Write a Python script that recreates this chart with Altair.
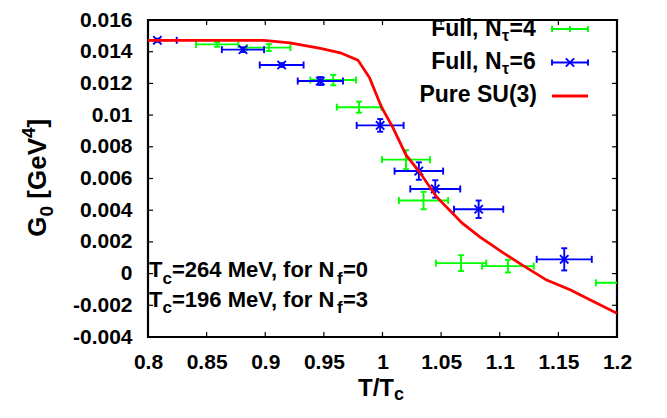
import altair as alt
import pandas as pd

# ---------------- data ----------------
# Full QCD, N_tau = 4 (green)
t4 = [0.859, 0.903, 0.958, 0.980, 1.020, 1.035, 1.067, 1.107, 1.205]
g4 = [0.01446, 0.01426, 0.01221, 0.01050, 0.00719, 0.00461, 0.00066, 0.00047, -0.00058]
dt4 = [0.018, 0.0185, 0.0195, 0.019, 0.0205, 0.021, 0.0215, 0.022, 0.023]
dg4 = [0.00015, 0.00022, 0.00033, 0.00035, 0.0006, 0.00055, 0.0005, 0.0004, 0.0003]

# Full QCD, N_tau = 6 (blue)
t6 = [0.808, 0.881, 0.914, 0.947, 0.998, 1.031, 1.045, 1.082, 1.155, 1.226]
g6 = [0.01472, 0.01413, 0.01316, 0.01215, 0.00935, 0.00647, 0.00534, 0.00406, 0.00090, -0.00129]
dt6 = [0.0165, 0.018, 0.0187, 0.0193, 0.020, 0.0207, 0.0213, 0.021, 0.0235, 0.0255]
dg6 = [0.0001, 0.00015, 0.00012, 0.00025, 0.0004, 0.00055, 0.00055, 0.00055, 0.0007, 0.0003]

# Pure SU(3) (red line)
tsu3 = [0.80, 0.85, 0.899, 0.921, 0.947, 0.964, 0.979, 0.989, 0.999, 1.009, 1.020,
        1.031, 1.046, 1.068, 1.083, 1.103, 1.120, 1.140, 1.160, 1.179, 1.200]
gsu3 = [0.01472, 0.01472, 0.01472, 0.01456, 0.01421, 0.01393, 0.01347, 0.01235, 0.01053,
        0.00920, 0.00749, 0.00647, 0.00485, 0.00318, 0.00232, 0.00131, 0.00050,
        -0.00041, -0.00102, -0.00173, -0.00250]

x_ticks = [0.8, 0.85, 0.9, 0.95, 1.0, 1.05, 1.1, 1.15, 1.2]
y_ticks = [-0.004, -0.002, 0.0, 0.002, 0.004, 0.006, 0.008, 0.01, 0.012, 0.014, 0.016]

GREEN, BLUE, RED = "#00ff00", "#0000ff", "#ff0000"
FONT = "Liberation Sans"
SW = 1.9

# ---------------- layout ----------------
W, H = 469, 317
PL, PT, PR, PB = 140, 12, 20, 67
OX, OY = PL + 8, PT + 8  # page position of the plot's top-left corner


def px(xp):
    return xp - OX


def py(yp):
    return yp - OY


xs = alt.Scale(domain=[0.8, 1.2], nice=False, zero=False)
ys = alt.Scale(domain=[-0.004, 0.016], nice=False, zero=False)
xaxis = alt.Axis(values=x_ticks, format="~g", title=None, grid=False, ticks=False,
                 domain=False, labelFont=FONT, labelFontSize=21, labelFontWeight="bold",
                 labelColor="black", labelPadding=14, labelFlush=False, labelOverlap=False)
yaxis = alt.Axis(values=y_ticks, title=None, grid=False, ticks=False, domain=False,
                 labelExpr="replace(format(datum.value, '~g'), '\u2212', '-')",
                 labelFont=FONT, labelFontSize=21, labelFontWeight="bold",
                 labelColor="black", labelPadding=16, labelOverlap=False)


def X(f):
    return alt.X(f, type="quantitative", scale=xs, axis=xaxis)


def Y(f):
    return alt.Y(f, type="quantitative", scale=ys, axis=yaxis)


def series(T, G, dT, dG, color, cross):
    df = pd.DataFrame({"T": T, "G": G, "dT": dT, "dG": dG})
    df["xlo"] = df["T"] - df["dT"]
    df["xhi"] = df["T"] + df["dT"]
    df["ylo"] = df["G"] - df["dG"]
    df["yhi"] = df["G"] + df["dG"]
    caps_x = pd.concat([df[["xlo", "G"]].rename(columns={"xlo": "cx"}),
                        df[["xhi", "G"]].rename(columns={"xhi": "cx"})])
    caps_y = pd.concat([df[["T", "ylo"]].rename(columns={"ylo": "cy"}),
                        df[["T", "yhi"]].rename(columns={"yhi": "cy"})])
    b = alt.Chart(df)
    layers = [
        b.mark_rule(color=color, strokeWidth=SW, clip=True).encode(x=X("xlo"), x2="xhi", y=Y("G")),
        b.mark_rule(color=color, strokeWidth=SW, clip=True).encode(x=X("T"), y=Y("ylo"), y2="yhi"),
        alt.Chart(caps_x).mark_tick(color=color, orient="vertical", size=7, thickness=SW,
                                    clip=True, opacity=1).encode(x=X("cx"), y=Y("G")),
        alt.Chart(caps_y).mark_tick(color=color, orient="horizontal", size=6, thickness=SW,
                                    clip=True, opacity=1).encode(x=X("T"), y=Y("cy")),
    ]
    if cross:
        layers.append(b.mark_point(shape="M-1,-1L1,1M-1,1L1,-1", size=70, filled=False,
                                   strokeWidth=SW, color=color, opacity=1, clip=True)
                      .encode(x=X("T"), y=Y("G")))
    return layers


one = pd.DataFrame({"k": [0]})


def txt(x, y, s, size, align="left", angle=0):
    return alt.Chart(one).mark_text(text=s, align=align, baseline="alphabetic", angle=angle,
                                    font=FONT, fontSize=size, fontWeight="bold",
                                    color="black").encode(x=alt.value(x), y=alt.value(y))


def hline(x1, x2, y, color, w=SW):
    return alt.Chart(one).mark_rule(color=color, strokeWidth=w).encode(
        x=alt.value(x1), x2=alt.value(x2), y=alt.value(y))


def vline(x, y1, y2, color, w=SW):
    return alt.Chart(one).mark_rule(color=color, strokeWidth=w).encode(
        x=alt.value(x), y=alt.value(y1), y2=alt.value(y2))


# red line
su3 = alt.Chart(pd.DataFrame({"T": tsu3, "G": gsu3})).mark_line(
    color=RED, strokeWidth=2.8, clip=True).encode(x=X("T"), y=Y("G"), order="T:Q")

# inner ticks on all four sides
xt = alt.Chart(pd.DataFrame({"v": x_ticks}))
yt = alt.Chart(pd.DataFrame({"v": y_ticks}))
tick_layers = [
    xt.mark_rule(color="black", strokeWidth=1.2).encode(x=X("v"), y=alt.value(H), y2=alt.value(H - 5)),
    xt.mark_rule(color="black", strokeWidth=1.2).encode(x=X("v"), y=alt.value(0), y2=alt.value(5)),
    yt.mark_rule(color="black", strokeWidth=1.2).encode(y=Y("v"), x=alt.value(0), x2=alt.value(5)),
    yt.mark_rule(color="black", strokeWidth=1.2).encode(y=Y("v"), x=alt.value(W - 5), x2=alt.value(W)),
]

# legend (top right)
LX1, LX2, LXM = px(552), px(588), px(570)
r1, r2, r3 = py(29), py(62.5), py(96)
b1, b2, b3 = py(35.5), py(69), py(102)
legend = [
    txt(px(501.5), b1, "Full, N", 23, align="right"),
    txt(px(502), b1 + 5, "\u03c4", 16),
    txt(px(509.5), b1, "=4", 23),
    txt(px(501.5), b2, "Full, N", 23, align="right"),
    txt(px(502), b2 + 5, "\u03c4", 16),
    txt(px(509.5), b2, "=6", 23),
    txt(px(537), b3, "Pure SU(3)", 23, align="right"),
    hline(LX1, LX2, r1, GREEN), vline(LX1, r1 - 3, r1 + 3, GREEN), vline(LX2, r1 - 3, r1 + 3, GREEN),
    vline(LXM, r1 - 3, r1 + 3, GREEN),
    hline(LX1, LX2, r2, BLUE), vline(LX1, r2 - 3, r2 + 3, BLUE), vline(LX2, r2 - 3, r2 + 3, BLUE),
    alt.Chart(one).mark_point(shape="M-1,-1L1,1M-1,1L1,-1", size=70, filled=False, strokeWidth=SW,
                              color=BLUE, opacity=1).encode(x=alt.value(LXM), y=alt.value(r2)),
    hline(LX1, LX2, r3, RED, 3),
]

# annotation (bottom left)
ann = []
for base_y, txt_mid, tail in [(py(277), "=264 MeV, for N", "=0"), (py(306.5), "=196 MeV, for N", "=3")]:
    ann += [
        txt(px(149), base_y, "T", 22),
        txt(px(162.5), base_y + 6.5, "c", 17),
        txt(px(172), base_y, txt_mid, 22),
        txt(px(172) + 164.5 + 0.5, base_y + 6.5, "f", 17),
        txt(px(172) + 164.5 + 6.5, base_y, tail, 22),
    ]

# axis titles
GY = py(236.7)
titles = [
    txt(px(358), py(396), "T/T", 24),
    txt(px(358) + 36, py(400), "c", 18),
    # y title, rotated, reading bottom-to-top
    txt(px(46), GY, "G", 26, angle=270),
    txt(px(53), GY - 20.2, "0", 19, angle=270),
    txt(px(46), GY - 20.2 - 10.6 - 7.2, "[GeV", 26, angle=270),
    txt(px(35), GY - 20.2 - 10.6 - 67.9, "4", 19, angle=270),
    txt(px(46), GY - 20.2 - 10.6 - 67.9 - 10.6, "]", 26, angle=270),
]

layers = (series(t4, g4, dt4, dg4, GREEN, False) + series(t6, g6, dt6, dg6, BLUE, True)
          + [su3] + tick_layers + legend + ann + titles)

chart = alt.layer(*layers).properties(
    width=W, height=H,
    padding={"left": PL, "top": PT, "right": PR, "bottom": PB},
    autosize=alt.AutoSizeParams(type="none"),
    background="white",
).configure_view(stroke="black", strokeWidth=2.2)

chart.save("out.html", embed_options={"renderer": "svg", "actions": False})
